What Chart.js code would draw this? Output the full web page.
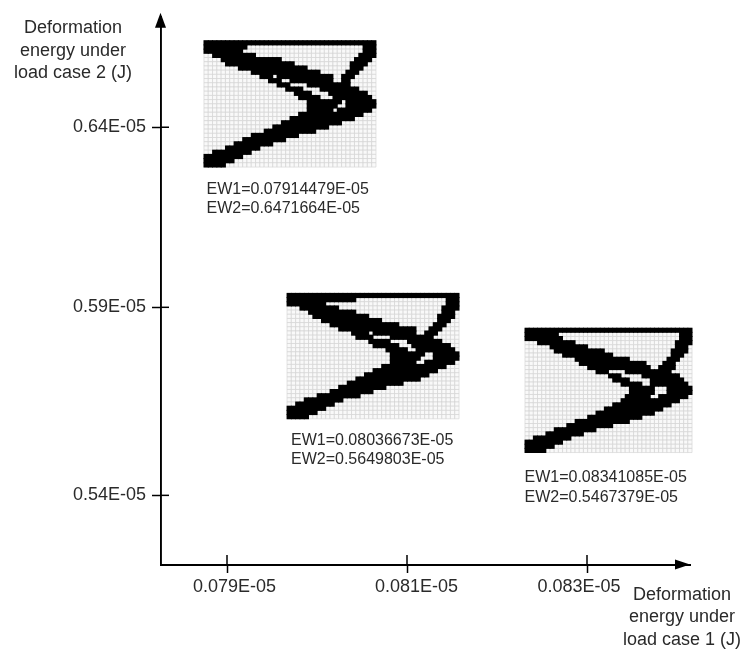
<!DOCTYPE html>
<html><head><meta charset="utf-8">
<style>html,body{margin:0;padding:0;background:#fff}#w{position:relative;width:742px;height:651px}canvas{display:block;filter:blur(0.55px)}</style>
<script src="https://cdn.jsdelivr.net/npm/chart.js@4"></script>
</head><body><div id="w"><canvas id="c" width="742" height="651"></canvas></div>
<script>
// tick values and labels
const xTickValues = [0.079, 0.081, 0.083];
const xTickLabels = ['0.079E-05', '0.081E-05', '0.083E-05'];
const yTickValues = [0.54, 0.59108, 0.64];
const yTickLabels = ['0.54E-05', '0.59E-05', '0.64E-05'];
const xTitleLines = ['Deformation', 'energy under', 'load case 1 (J)'];
const yTitleLines = ['Deformation', 'energy under', 'load case 2 (J)'];
// the three designs: objective values
const ew1Labels = ['EW1=0.07914479E-05', 'EW1=0.08036673E-05', 'EW1=0.08341085E-05'];
const ew2Labels = ['EW2=0.6471664E-05', 'EW2=0.5649803E-05', 'EW2=0.5467379E-05'];
// black runs of each row of the 40x30 material layouts (first-last column)
const design1 = ['0-39','0-9 37-39','0-8 37-39','2-11 36-39','4-17 35-38','5-20 34-37','8-23 34-36','11-26 33-35','13-15 17-29 32-34','15-17 20-29 32-33','17-19 24-33','19-22 27-35','21-24 29-37','22-26 30-38','24-31 33-39','24-30 33-39','24-29 31-38','22-36','20-34','18-31','16-28','14-25','11-21','9-18','7-15','5-12','2-10','0-8','0-6','0-4'];
const design2 = ['0-39','0-15 37-39','0-8 37-39','3-11 36-39','5-15 36-38','6-18 35-38','8-21 35-37','10-25 34-36','12-29 33-35','15-18 20-29 32-34','16-19 24-33','19-23 28-35','20-25 29-37','23-27 30-38','24-31 34-39','24-30 34-39','24-29 32-38','22-36','20-34','18-32','16-30','14-26','12-22','10-19','7-16','4-12','2-10','0-8','0-6','0-4'];
const design3 = ['0-39','0-7 37-39','0-8 37-39','3-11 36-39','6-14 36-38','7-18 35-38','9-20 35-37','12-24 34-36','13-28 33-35','15-29 32-35','17-19 24-34','20-22 28-36','21-24 30-37','23-27 30-38','25-30 34-39','25-30 34-39','24-29 32-38','23-36','21-34','19-32','17-30','15-27','12-24','10-20','7-16','5-13','2-10','0-8','0-6','0-4'];
const designs = [design1, design2, design3];
// layout frames of the insets, in axis units
const frames = [
  {left:0.078744, top:0.66351, dx:0.00004778, dy:0.001144, px:4.3},
  {left:0.079667, top:0.59486, dx:0.00004778, dy:0.001135, px:4.3},
  {left:0.082311, top:0.58541, dx:0.0000464,  dy:0.001126, px:4.18}
];
const xLabelShift = [7.5, 9.5, -8];
const ewLabelAnchors = [[206.5,190,209],[291,440.5,460],[524.5,478,497.5]];

function cellsOf(rows, f){
  const black=[], all=[];
  rows.forEach((row,r)=>{
    const on=new Array(40).fill(false);
    row.split(' ').forEach(run=>{const [a,b]=run.split('-').map(Number);for(let c=a;c<=b;c++)on[c]=true;});
    on.forEach((v,c)=>{
      const p={x:f.left+(c+0.5)*f.dx,y:f.top-(r+0.5)*f.dy};
      all.push(p); if(v)black.push(p);
    });
  });
  return {black,all};
}
const blackSets=[], gridSets=[];
designs.forEach((rows,i)=>{
  const f=frames[i], s=cellsOf(rows,f);
  blackSets.push({label:'design '+(i+1)+' material',data:s.black,pointStyle:'rect',pointRadius:(f.px+0.9)*Math.SQRT1_2,pointBackgroundColor:'#000',pointBorderWidth:0,showLine:false,clip:false});
  gridSets.push({label:'design '+(i+1)+' mesh',data:s.all,pointStyle:'rect',pointRadius:f.px*Math.SQRT1_2,pointBackgroundColor:'#f9f9f9',pointBorderColor:'#d0d0d0',pointBorderWidth:0.6,showLine:false,clip:false});
});

const INK='#2a2a2a';
const FONT='"Liberation Sans", Arial, sans-serif';
const furniture={
  id:'furniture',
  beforeDraw(ch){
    ch.scales.x.getLabelItems(ch.chartArea).forEach((it,i)=>{it.options.translation[0]+=xLabelShift[i];});
  },
  afterDraw(ch){
    const {ctx,chartArea:a,scales:{x,y}}=ch;
    ctx.save();
    ctx.strokeStyle='#000';ctx.lineWidth=1.5;ctx.fillStyle='#000';
    // inner part of tick marks
    xTickValues.forEach(v=>{const p=x.getPixelForValue(v);ctx.beginPath();ctx.moveTo(p,a.bottom);ctx.lineTo(p,a.bottom-9.5);ctx.stroke();});
    yTickValues.forEach(v=>{const p=y.getPixelForValue(v);ctx.beginPath();ctx.moveTo(a.left,p);ctx.lineTo(a.left+8.5,p);ctx.stroke();});
    // arrow heads
    ctx.beginPath();ctx.moveTo(a.left,a.top-4);ctx.lineTo(a.left-5.5,a.top+11);ctx.lineTo(a.left+5.5,a.top+11);ctx.closePath();ctx.fill();
    ctx.beginPath();ctx.moveTo(a.right,a.bottom);ctx.lineTo(a.right-15,a.bottom-5);ctx.lineTo(a.right-15,a.bottom+5);ctx.closePath();ctx.fill();
    // texts
    ctx.fillStyle=INK;ctx.textBaseline='middle';ctx.textAlign='center';
    ctx.font='18px '+FONT;
    yTitleLines.forEach((t,i)=>ctx.fillText(t,73,28.5+i*22.3));
    xTitleLines.forEach((t,i)=>ctx.fillText(t,682,595+i*22.3));
    ctx.textAlign='left';ctx.font='16px '+FONT;
    ewLabelAnchors.forEach(([lx,l1,l2],i)=>{
      ctx.fillText(ew1Labels[i],lx,l1);
      ctx.fillText(ew2Labels[i],lx,l2);
    });
    ctx.restore();
  }
};

new Chart(document.getElementById('c'),{
  type:'scatter',
  data:{datasets:[...blackSets,...gridSets]},
  plugins:[furniture],
  options:{
    responsive:false,animation:false,events:[],
    layout:{padding:{left:0,top:14,right:52,bottom:0}},
    plugins:{legend:{display:false},tooltip:{enabled:false},title:{display:false}},
    scales:{
      x:{type:'linear',min:0.0782611,max:0.0841444,
        afterFit(s){s.height=86.5;},
        afterBuildTicks(s){s.ticks=xTickValues.map(v=>({value:v}));},
        border:{color:'#000',width:1.9},
        grid:{drawOnChartArea:false,tickColor:'#000',tickLength:8.5,tickWidth:1.5},
        ticks:{autoSkip:false,maxRotation:0,color:INK,padding:3,font:{family:FONT,size:18},
          callback:(v)=>xTickLabels[xTickValues.indexOf(v)]}},
      y:{type:'linear',min:0.521216,max:0.67,
        afterFit(s){s.width=160.5;},
        afterBuildTicks(s){s.ticks=yTickValues.map(v=>({value:v}));},
        border:{color:'#000',width:1.9},
        grid:{drawOnChartArea:false,tickColor:'#000',tickLength:8.5,tickWidth:1.5},
        ticks:{autoSkip:false,color:INK,padding:6,font:{family:FONT,size:18},
          callback:(v)=>yTickLabels[yTickValues.indexOf(v)]}}
    }
  }
});
</script></body></html>
